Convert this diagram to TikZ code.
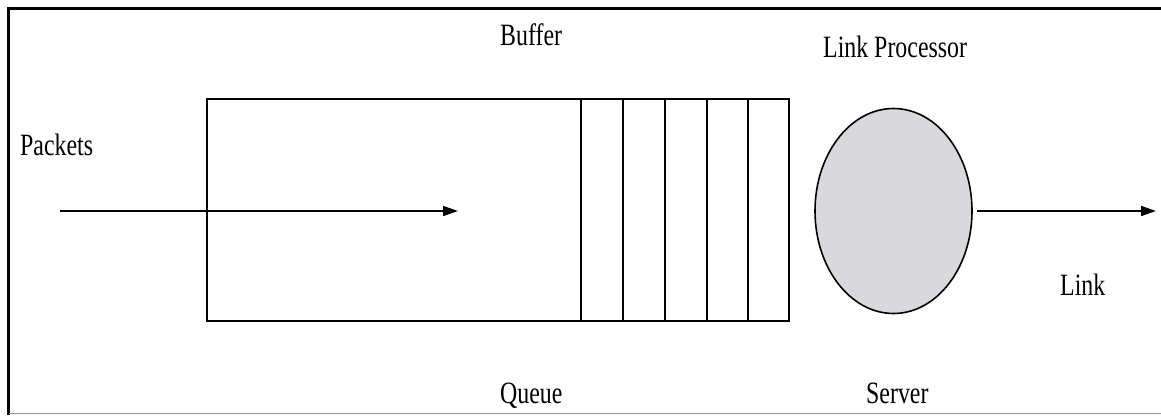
\documentclass[tikz,border=0pt]{standalone}
\usepackage{fontspec}
\setmainfont{Liberation Serif}[FakeStretch=0.77]
\usepackage{xcolor}
\usepackage{tikz}
\usetikzlibrary{shapes.geometric,arrows.meta,positioning}

\definecolor{procgray}{RGB}{217,217,220}
\definecolor{framegray}{RGB}{150,150,150}

\begin{document}
\begin{tikzpicture}[
    x=1pt, y=-1pt,
    label/.style={font=\fontsize{31}{34}\selectfont, inner sep=0pt, anchor=base west},
    queuebox/.style={rectangle, draw, line width=1.6pt, minimum width=582pt, minimum height=222pt, inner sep=0pt},
    proc/.style={ellipse, draw, line width=1.6pt, fill=procgray, minimum width=157pt, minimum height=205pt, inner sep=0pt},
    flow/.style={line width=1.6pt, -{Triangle[length=15pt,width=10pt]}}
]
\useasboundingbox (0,0) rectangle (1161,415);

% Frame
\draw [line width=3pt] (1161,8.5) -- (8.5,8.5) -- (8.5,415);
\draw [framegray, line width=1pt] (8.5,413.5) -- (1161,413.5);

% Buffer
\node (buffer) [queuebox] at (498,210) {};
\foreach \sx in {581,623,665,707,748}
    \draw [line width=1.6pt] (\sx,99) -- (\sx,321);

% Link processor
\node (server) [proc] at (893.5,211) {};

% Flows
\coordinate (in) at (60,211);
\coordinate (head) at (458,211);
\coordinate (out) at (1156,211);
\draw [flow] (in) -- (head);
\draw [flow] ([xshift=4pt]server.east) -- (out);

% Labels
\node (packets) [label] at (20,155) {Packets};
\node (buflabel) [label] at (500,45) {Buffer};
\node (proclabel) [label] at (823,57) {Link Processor};
\node (link) [label] at (1060,295) {Link};
\node (queue) [label] at (500,403) {Queue};
\node (srvlabel) [label] at (866,403) {Server};

\end{tikzpicture}
\end{document}
